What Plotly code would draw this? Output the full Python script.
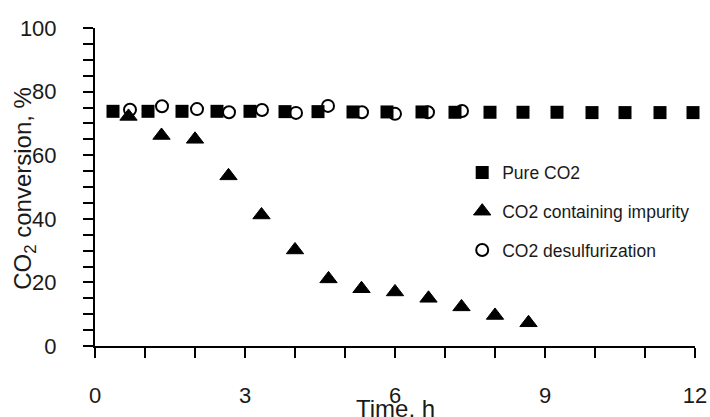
import plotly.graph_objects as go

# ---- data ----
time_pure = [0.36, 1.06, 1.74, 2.44, 3.10, 3.80, 4.46, 5.16, 5.84, 6.54, 7.20, 7.90, 8.56, 9.24, 9.94, 10.60, 11.30, 11.96]
conv_pure = [73.8, 73.8, 73.8, 73.8, 73.8, 73.7, 73.7, 73.6, 73.6, 73.6, 73.5, 73.5, 73.5, 73.5, 73.4, 73.4, 73.4, 73.4]

time_imp = [0.67, 1.33, 2.00, 2.67, 3.33, 4.00, 4.67, 5.33, 6.00, 6.67, 7.33, 8.00, 8.67]
conv_imp = [72.2, 66.2, 65.0, 53.5, 41.2, 30.2, 21.1, 18.0, 17.0, 15.0, 12.3, 9.6, 7.3]

time_desulf = [0.70, 1.34, 2.04, 2.68, 3.34, 4.02, 4.66, 5.34, 6.00, 6.66, 7.34]
conv_desulf = [74.3, 75.4, 74.5, 73.5, 74.2, 73.3, 75.5, 73.5, 73.0, 73.5, 73.9]

x_tick_vals = [0, 3, 6, 9, 12]
y_tick_vals = [0, 20, 40, 60, 80, 100]

FONT = "Liberation Sans"
TXT = "#1a1a1a"

fig = go.Figure()
fig.add_trace(go.Scatter(
    x=time_pure, y=conv_pure, mode="markers", name="Pure CO2", legendgroup="a",
    marker=dict(symbol="square", size=13, color="black", line=dict(width=0)),
    cliponaxis=False))
fig.add_trace(go.Scatter(
    x=time_imp, y=conv_imp, mode="markers", name="CO2 containing impurity", legendgroup="b",
    marker=dict(symbol="triangle-up", size=15, color="black", line=dict(width=1, color="black")),
    cliponaxis=False))
fig.add_trace(go.Scatter(
    x=time_desulf, y=conv_desulf, mode="markers", name="CO2 desulfurization", legendgroup="c",
    marker=dict(symbol="circle-open", size=12, color="black", line=dict(width=2, color="black")),
    cliponaxis=False))

axis_common = dict(
    showgrid=False, zeroline=False, showline=True, linecolor="black", linewidth=2,
    ticks="outside", ticklen=10, tickwidth=2, tickcolor="black", automargin=False,
    tickfont=dict(family=FONT, size=22, color=TXT),
)

fig.update_xaxes(range=[0, 12], tickmode="array", tickvals=x_tick_vals,
                 ticklabelstandoff=19,
                 minor=dict(dtick=1, tick0=0, ticks="outside", ticklen=10, tickwidth=2, tickcolor="black"),
                 **axis_common)
fig.update_yaxes(range=[0, 100], tickmode="array", tickvals=y_tick_vals,
                 ticklabelstandoff=22,
                 minor=dict(dtick=5, tick0=0, ticks="outside", ticklen=10, tickwidth=2, tickcolor="black"),
                 **axis_common)

fig.add_annotation(text="Time, h", xref="paper", yref="paper", x=0.5, y=-0.195,
                   xanchor="center", yanchor="middle", showarrow=False,
                   font=dict(family=FONT, size=24, color=TXT))
fig.add_annotation(text="CO<sub>2</sub> conversion, %", xref="paper", yref="paper",
                   x=-0.118, y=0.495, xanchor="center", yanchor="middle", textangle=-90,
                   showarrow=False, font=dict(family=FONT, size=24, color=TXT))

fig.update_layout(
    width=710, height=417,
    margin=dict(l=95, r=15, t=28, b=71, autoexpand=False),
    paper_bgcolor="white", plot_bgcolor="white",
    showlegend=True,
    legend=dict(x=0.612, y=0.602, xanchor="left", yanchor="top",
                bgcolor="rgba(0,0,0,0)", tracegroupgap=13,
                font=dict(family=FONT, size=17.5, color=TXT)),
)

fig.write_html("out.html", config={"displayModeBar": False},
               post_script="document.body.style.margin='0';document.body.style.overflow='hidden';")
